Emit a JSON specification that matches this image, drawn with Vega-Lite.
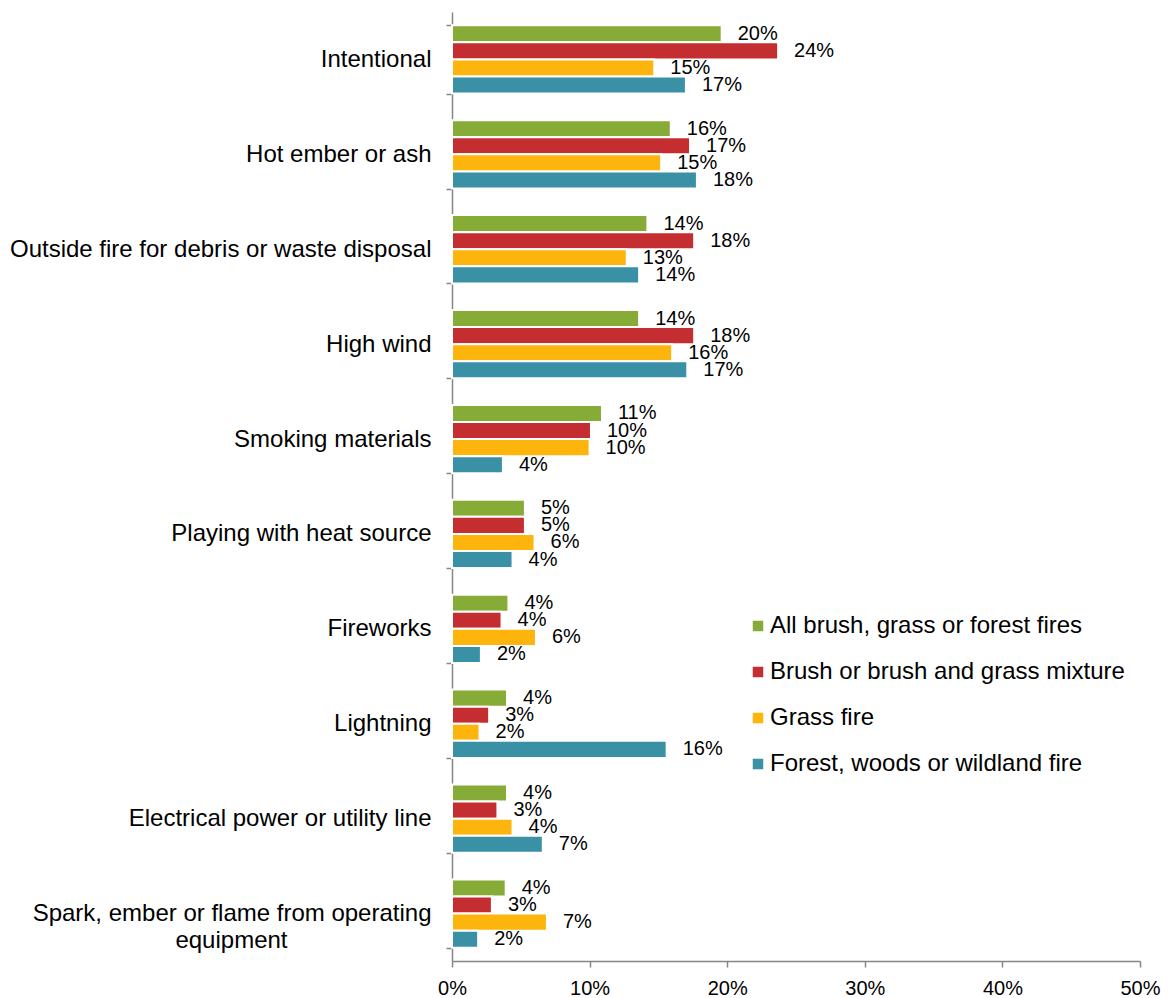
{
  "$schema": "https://vega.github.io/schema/vega-lite/v6.json",
  "autosize": {"type": "none"},
  "padding": {"left": 452, "top": 12, "right": 28, "bottom": 37},
  "width": 688,
  "height": 949,
  "background": "white",
  "config": {
    "font": "Liberation Sans",
    "view": {"stroke": null}
  },
  "data": {
    "values": [
      {"cause": "Intentional", "type": "All brush, grass or forest fires", "share": 0.196},
      {"cause": "Intentional", "type": "Brush or brush and grass mixture", "share": 0.237},
      {"cause": "Intentional", "type": "Grass fire", "share": 0.147},
      {"cause": "Intentional", "type": "Forest, woods or wildland fire", "share": 0.170},
      {"cause": "Hot ember or ash", "type": "All brush, grass or forest fires", "share": 0.159},
      {"cause": "Hot ember or ash", "type": "Brush or brush and grass mixture", "share": 0.173},
      {"cause": "Hot ember or ash", "type": "Grass fire", "share": 0.152},
      {"cause": "Hot ember or ash", "type": "Forest, woods or wildland fire", "share": 0.178},
      {"cause": "Outside fire for debris or waste disposal", "type": "All brush, grass or forest fires", "share": 0.142},
      {"cause": "Outside fire for debris or waste disposal", "type": "Brush or brush and grass mixture", "share": 0.176},
      {"cause": "Outside fire for debris or waste disposal", "type": "Grass fire", "share": 0.127},
      {"cause": "Outside fire for debris or waste disposal", "type": "Forest, woods or wildland fire", "share": 0.136},
      {"cause": "High wind", "type": "All brush, grass or forest fires", "share": 0.136},
      {"cause": "High wind", "type": "Brush or brush and grass mixture", "share": 0.176},
      {"cause": "High wind", "type": "Grass fire", "share": 0.160},
      {"cause": "High wind", "type": "Forest, woods or wildland fire", "share": 0.171},
      {"cause": "Smoking materials", "type": "All brush, grass or forest fires", "share": 0.109},
      {"cause": "Smoking materials", "type": "Brush or brush and grass mixture", "share": 0.101},
      {"cause": "Smoking materials", "type": "Grass fire", "share": 0.100},
      {"cause": "Smoking materials", "type": "Forest, woods or wildland fire", "share": 0.037},
      {"cause": "Playing with heat source", "type": "All brush, grass or forest fires", "share": 0.053},
      {"cause": "Playing with heat source", "type": "Brush or brush and grass mixture", "share": 0.053},
      {"cause": "Playing with heat source", "type": "Grass fire", "share": 0.060},
      {"cause": "Playing with heat source", "type": "Forest, woods or wildland fire", "share": 0.044},
      {"cause": "Fireworks", "type": "All brush, grass or forest fires", "share": 0.041},
      {"cause": "Fireworks", "type": "Brush or brush and grass mixture", "share": 0.036},
      {"cause": "Fireworks", "type": "Grass fire", "share": 0.061},
      {"cause": "Fireworks", "type": "Forest, woods or wildland fire", "share": 0.021},
      {"cause": "Lightning", "type": "All brush, grass or forest fires", "share": 0.040},
      {"cause": "Lightning", "type": "Brush or brush and grass mixture", "share": 0.027},
      {"cause": "Lightning", "type": "Grass fire", "share": 0.020},
      {"cause": "Lightning", "type": "Forest, woods or wildland fire", "share": 0.156},
      {"cause": "Electrical power or utility line", "type": "All brush, grass or forest fires", "share": 0.040},
      {"cause": "Electrical power or utility line", "type": "Brush or brush and grass mixture", "share": 0.033},
      {"cause": "Electrical power or utility line", "type": "Grass fire", "share": 0.044},
      {"cause": "Electrical power or utility line", "type": "Forest, woods or wildland fire", "share": 0.066},
      {"cause": "Spark, ember or flame from operating equipment", "type": "All brush, grass or forest fires", "share": 0.039},
      {"cause": "Spark, ember or flame from operating equipment", "type": "Brush or brush and grass mixture", "share": 0.029},
      {"cause": "Spark, ember or flame from operating equipment", "type": "Grass fire", "share": 0.069},
      {"cause": "Spark, ember or flame from operating equipment", "type": "Forest, woods or wildland fire", "share": 0.019}
    ]
  },
  "encoding": {
    "y": {
      "field": "cause",
      "type": "nominal",
      "sort": null,
      "title": null,
      "scale": {"paddingInner": 0.28, "paddingOuter": 0.14},
      "axis": {
        "tickBand": "extent",
        "domainColor": "#868686",
        "domainWidth": 1.5,
        "tickColor": "#868686",
        "tickWidth": 1.5,
        "tickSize": 6,
        "labelPadding": 15,
        "labelFontSize": 24,
        "labelColor": "#000000",
        "labelLimit": 0,
        "labelLineHeight": 27,
        "labelExpr": "datum.value == 'Spark, ember or flame from operating equipment' ? ['Spark, ember or flame from operating', 'equipment\u2800\u2800\u2800\u2800\u2800\u2800\u2800\u2800'] : datum.label"
      }
    },
    "yOffset": {
      "field": "type",
      "type": "nominal",
      "sort": null,
      "scale": {"paddingInner": 0, "paddingOuter": 0}
    },
    "x": {
      "field": "share",
      "type": "quantitative",
      "title": null,
      "scale": {"domain": [0, 0.5], "nice": false},
      "axis": {
        "format": ".0%",
        "values": [0, 0.1, 0.2, 0.3, 0.4, 0.5],
        "grid": false,
        "domainColor": "#868686",
        "domainWidth": 1.5,
        "tickColor": "#868686",
        "tickWidth": 1.5,
        "tickSize": 6,
        "labelPadding": 11,
        "labelFontSize": 20,
        "labelColor": "#000000",
        "labelFlush": false
      }
    }
  },
  "layer": [
    {
      "mark": {"type": "bar", "stroke": "white", "strokeWidth": 2},
      "encoding": {
        "color": {
          "field": "type",
          "type": "nominal",
          "sort": null,
          "title": null,
          "scale": {
            "domain": ["All brush, grass or forest fires", "Brush or brush and grass mixture", "Grass fire", "Forest, woods or wildland fire"],
            "range": ["#86AB36", "#C42E30", "#FDB40D", "#3A91A6"]
          },
          "legend": {
            "orient": "none",
            "legendX": 294,
            "legendY": 602,
            "symbolType": "square",
            "symbolSize": 110,
            "symbolStrokeWidth": 0,
            "labelFontSize": 24,
            "labelColor": "#000000",
            "labelLimit": 0,
            "labelOffset": 0,
            "rowPadding": 22
          }
        }
      }
    },
    {
      "mark": {"type": "text", "align": "left", "baseline": "middle", "dx": 16, "fontSize": 20, "color": "#000000"},
      "encoding": {
        "text": {"field": "share", "type": "quantitative", "format": ".0%"}
      }
    }
  ]
}
